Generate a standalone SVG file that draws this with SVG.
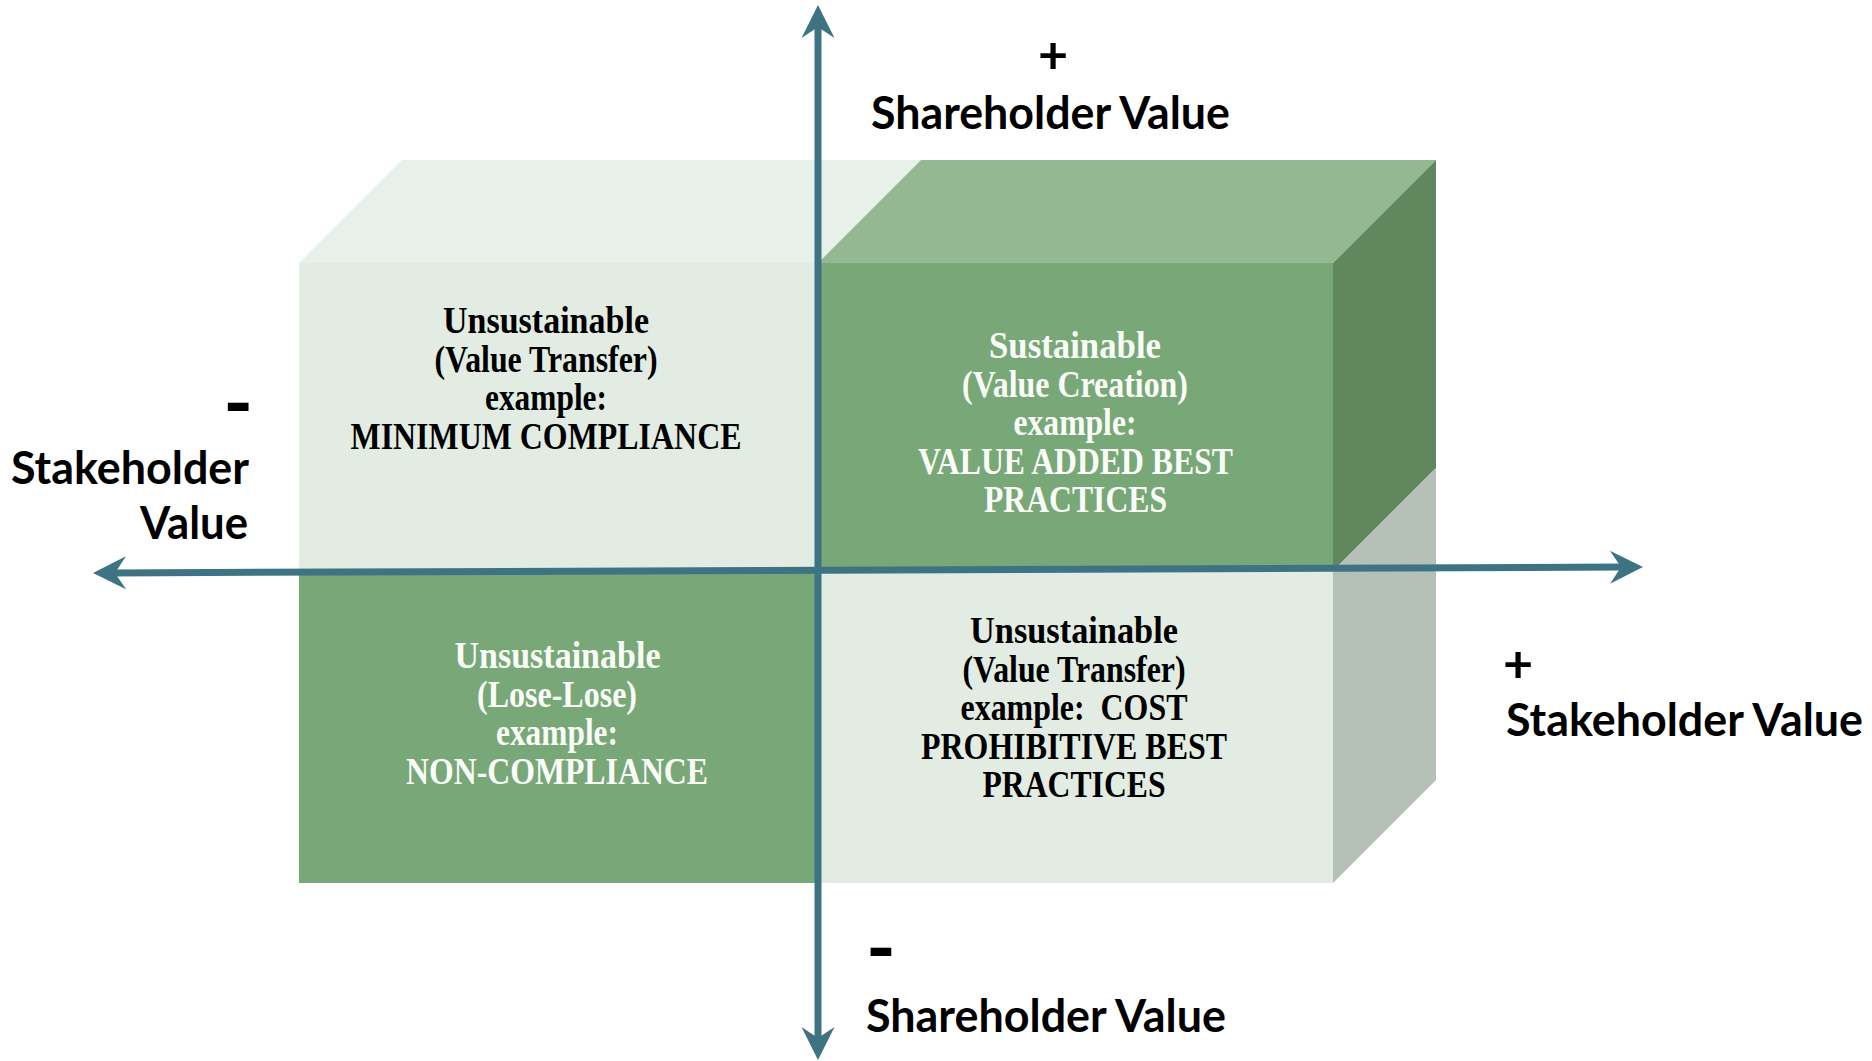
<svg xmlns="http://www.w3.org/2000/svg" width="1872" height="1061" viewBox="0 0 1872 1061">
<style>
.q{font-family:"Liberation Serif","Times New Roman",serif;font-weight:bold;font-size:37px}
.dk{fill:#000000}
.lt{fill:#FAFCF7}
.ax{font-family:Lato,"Open Sans","Liberation Sans",sans-serif;font-weight:bold;fill:#000000}
.lbl{font-size:46px}
.pl{font-size:52px}
.mn{font-size:80px}
.axis{stroke:#3E7383;stroke-width:7;fill:none}
</style>
<defs>
<marker id="ah" viewBox="-14 -17 36 34" markerWidth="36" markerHeight="34" refX="0" refY="0" markerUnits="userSpaceOnUse" orient="auto">
<path d="M20,0 L-13,-16.5 L-2,0 L-13,16.5 Z" fill="#3E7383"/>
</marker>
<marker id="ahs" viewBox="-14 -17 36 34" markerWidth="36" markerHeight="34" refX="0" refY="0" markerUnits="userSpaceOnUse" orient="auto-start-reverse">
<path d="M20,0 L-13,-16.5 L-2,0 L-13,16.5 Z" fill="#3E7383"/>
</marker>
</defs>
<rect width="1872" height="1061" fill="#FFFFFF"/>
<g id="box">
<polygon points="299,263 402,160 921,160 818,263" fill="#E7F0E9"/>
<polygon points="818,263 921,160 1436,160 1333,263" fill="#93B892"/>
<polygon points="1333,263 1436,160 1436,468 1333,571" fill="#60875E"/>
<polygon points="1333,571 1436,468 1436,780 1333,883" fill="#B5C0B7"/>
</g>
<g id="q-tl">
<rect x="299" y="263" width="519" height="308" fill="#E2ECE3"/>
<text class="q dk"><tspan x="443" y="333" textLength="206" lengthAdjust="spacingAndGlyphs">Unsustainable</tspan><tspan x="434.5" y="371.5" textLength="223" lengthAdjust="spacingAndGlyphs">(Value Transfer)</tspan><tspan x="485" y="410" textLength="122" lengthAdjust="spacingAndGlyphs">example:</tspan><tspan x="350.5" y="448.5" textLength="391" lengthAdjust="spacingAndGlyphs">MINIMUM COMPLIANCE</tspan></text>
</g>
<g id="q-tr">
<rect x="818" y="263" width="515" height="308" fill="#78A878"/>
<text class="q lt"><tspan x="989" y="358" textLength="172" lengthAdjust="spacingAndGlyphs">Sustainable</tspan><tspan x="962" y="396.5" textLength="226" lengthAdjust="spacingAndGlyphs">(Value Creation)</tspan><tspan x="1013.5" y="435" textLength="123" lengthAdjust="spacingAndGlyphs">example:</tspan><tspan x="918" y="473.5" textLength="315" lengthAdjust="spacingAndGlyphs">VALUE ADDED BEST</tspan><tspan x="984" y="512" textLength="183" lengthAdjust="spacingAndGlyphs">PRACTICES</tspan></text>
</g>
<g id="q-bl">
<rect x="299" y="571" width="519" height="312" fill="#78A878"/>
<text class="q lt"><tspan x="454.5" y="668" textLength="206" lengthAdjust="spacingAndGlyphs">Unsustainable</tspan><tspan x="477" y="706.5" textLength="160" lengthAdjust="spacingAndGlyphs">(Lose-Lose)</tspan><tspan x="496" y="745" textLength="122" lengthAdjust="spacingAndGlyphs">example:</tspan><tspan x="406" y="783.5" textLength="302" lengthAdjust="spacingAndGlyphs">NON-COMPLIANCE</tspan></text>
</g>
<g id="q-br">
<rect x="818" y="571" width="515" height="312" fill="#E2ECE3"/>
<text class="q dk" xml:space="preserve"><tspan x="970" y="643" textLength="208" lengthAdjust="spacingAndGlyphs">Unsustainable</tspan><tspan x="962.5" y="681.5" textLength="223" lengthAdjust="spacingAndGlyphs">(Value Transfer)</tspan><tspan x="960.5" y="720" textLength="227" lengthAdjust="spacingAndGlyphs">example:  COST</tspan><tspan x="921" y="758.5" textLength="306" lengthAdjust="spacingAndGlyphs">PROHIBITIVE BEST</tspan><tspan x="982.5" y="797" textLength="183" lengthAdjust="spacingAndGlyphs">PRACTICES</tspan></text>
</g>
<g id="axes">
<line class="axis" x1="113" y1="572.9" x2="1623" y2="567.1" marker-start="url(#ahs)" marker-end="url(#ah)"/>
<line class="axis" x1="818" y1="25" x2="818" y2="1040" marker-start="url(#ahs)" marker-end="url(#ah)"/>
</g>
<g id="label-top">
<text class="ax pl" x="1053" y="73" text-anchor="middle">+</text>
<text class="ax lbl" x="871" y="129" textLength="359" lengthAdjust="spacingAndGlyphs">Shareholder Value</text>
</g>
<g id="label-bottom">
<text class="ax mn" x="866" y="976">-</text>
<text class="ax lbl" x="866" y="1032" textLength="360" lengthAdjust="spacingAndGlyphs">Shareholder Value</text>
</g>
<g id="label-left">
<text class="ax mn" x="253" y="431" text-anchor="end">-</text>
<text class="ax lbl" x="11" y="484" textLength="238" lengthAdjust="spacingAndGlyphs">Stakeholder</text>
<text class="ax lbl" x="140" y="539" textLength="108" lengthAdjust="spacingAndGlyphs">Value</text>
</g>
<g id="label-right">
<text class="ax pl" x="1503" y="682">+</text>
<text class="ax lbl" x="1506" y="736" textLength="357" lengthAdjust="spacingAndGlyphs">Stakeholder Value</text>
</g>
</svg>
